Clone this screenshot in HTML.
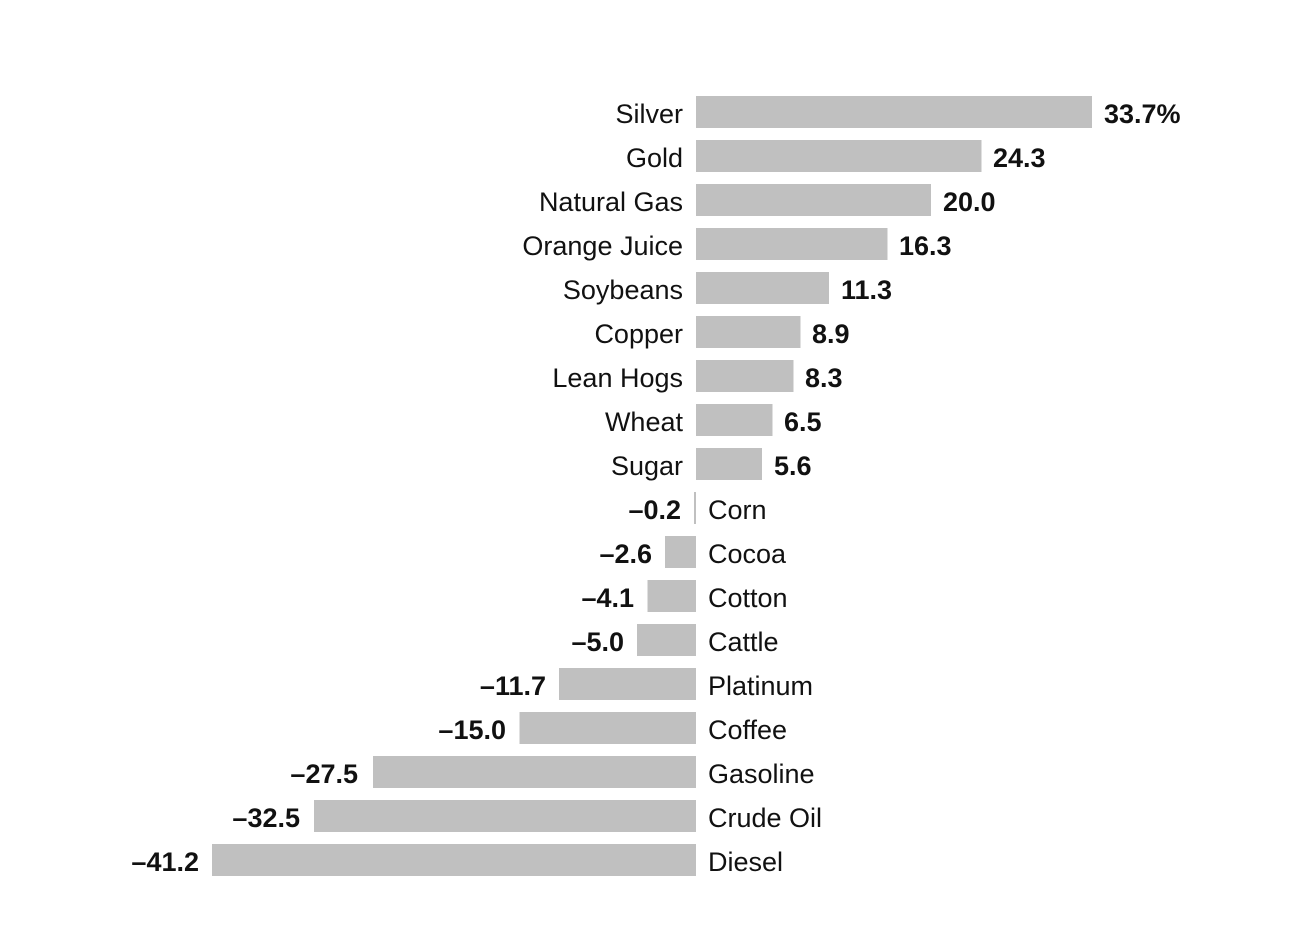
<!DOCTYPE html>
<html><head><meta charset="utf-8"><style>
html,body{margin:0;padding:0;background:#fff;}
svg{display:block;}
text{font-family:"Liberation Sans","DejaVu Sans",sans-serif;font-size:27px;fill:#111;}
.v{font-weight:bold;}
</style></head><body>
<svg width="1308" height="944" xmlns="http://www.w3.org/2000/svg">
<g transform="translate(0,1)">
<text x="683" y="122" text-anchor="end">Silver</text><text class="v" x="1104" y="122">33.7%</text>
<text x="683" y="166" text-anchor="end">Gold</text><text class="v" x="993" y="166">24.3</text>
<text x="683" y="210" text-anchor="end">Natural Gas</text><text class="v" x="943" y="210">20.0</text>
<text x="683" y="254" text-anchor="end">Orange Juice</text><text class="v" x="899" y="254">16.3</text>
<text x="683" y="298" text-anchor="end">Soybeans</text><text class="v" x="841" y="298">11.3</text>
<text x="683" y="342" text-anchor="end">Copper</text><text class="v" x="812" y="342">8.9</text>
<text x="683" y="386" text-anchor="end">Lean Hogs</text><text class="v" x="805" y="386">8.3</text>
<text x="683" y="430" text-anchor="end">Wheat</text><text class="v" x="784" y="430">6.5</text>
<text x="683" y="474" text-anchor="end">Sugar</text><text class="v" x="774" y="474">5.6</text>
<text x="708" y="518">Corn</text><text class="v" x="681" y="518" text-anchor="end">–0.2</text>
<text x="708" y="562">Cocoa</text><text class="v" x="652" y="562" text-anchor="end">–2.6</text>
<text x="708" y="606">Cotton</text><text class="v" x="634" y="606" text-anchor="end">–4.1</text>
<text x="708" y="650">Cattle</text><text class="v" x="624" y="650" text-anchor="end">–5.0</text>
<text x="708" y="694">Platinum</text><text class="v" x="546" y="694" text-anchor="end">–11.7</text>
<text x="708" y="738">Coffee</text><text class="v" x="506" y="738" text-anchor="end">–15.0</text>
<text x="708" y="782">Gasoline</text><text class="v" x="358" y="782" text-anchor="end">–27.5</text>
<text x="708" y="826">Crude Oil</text><text class="v" x="300" y="826" text-anchor="end">–32.5</text>
<text x="708" y="870">Diesel</text><text class="v" x="199" y="870" text-anchor="end">–41.2</text>
</g>
<rect x="696" y="96" width="396" height="32" fill="#c0c0c0"/>
<rect x="696" y="140" width="285.5" height="32" fill="#c0c0c0"/>
<rect x="696" y="184" width="235" height="32" fill="#c0c0c0"/>
<rect x="696" y="228" width="191.5" height="32" fill="#c0c0c0"/>
<rect x="696" y="272" width="133" height="32" fill="#c0c0c0"/>
<rect x="696" y="316" width="104.5" height="32" fill="#c0c0c0"/>
<rect x="696" y="360" width="97.5" height="32" fill="#c0c0c0"/>
<rect x="696" y="404" width="76.5" height="32" fill="#c0c0c0"/>
<rect x="696" y="448" width="66" height="32" fill="#c0c0c0"/>
<rect x="694" y="492" width="2" height="32" fill="#c0c0c0"/>
<rect x="665" y="536" width="31" height="32" fill="#c0c0c0"/>
<rect x="647.5" y="580" width="48.5" height="32" fill="#c0c0c0"/>
<rect x="637" y="624" width="59" height="32" fill="#c0c0c0"/>
<rect x="559" y="668" width="137" height="32" fill="#c0c0c0"/>
<rect x="519.5" y="712" width="176.5" height="32" fill="#c0c0c0"/>
<rect x="373" y="756" width="323" height="32" fill="#c0c0c0"/>
<rect x="314" y="800" width="382" height="32" fill="#c0c0c0"/>
<rect x="212" y="844" width="484" height="32" fill="#c0c0c0"/>
</svg>
</body></html>
